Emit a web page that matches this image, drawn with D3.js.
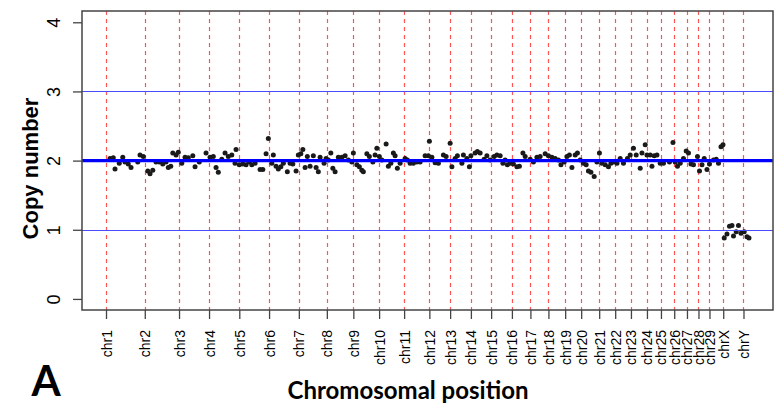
<!DOCTYPE html>
<html>
<head>
<meta charset="utf-8">
<script src="https://cdn.jsdelivr.net/npm/d3@7"></script>
<style>
  body { margin: 0; background: #fff; }
  svg { display: block; }
</style>
</head>
<body>
<script>
// copy number along the genome, one dot per segment

var chromNames = ["chr1", "chr2", "chr3", "chr4", "chr5", "chr6", "chr7", "chr8", "chr9", "chr10",
  "chr11", "chr12", "chr13", "chr14", "chr15", "chr16", "chr17", "chr18", "chr19", "chr20",
  "chr21", "chr22", "chr23", "chr24", "chr25", "chr26", "chr27", "chr28", "chr29", "chrX", "chrY"];

// start of each chromosome (Mb, cumulative)
var chromStarts = [0, 155, 292, 412, 533, 652, 771, 883, 989, 1092,
  1192, 1293, 1376, 1459, 1540, 1623, 1697, 1769, 1836, 1900,
  1972, 2036, 2099, 2163, 2219, 2272, 2323, 2369, 2413, 2468, 2549];

var yTicks = [0, 1, 2, 3, 4];
var refLines = [1, 3];
var baseLine = 2;

// [cumulative position (Mb), copy number]
var segments = [
  [16, 2.03], [29, 2.04], [36, 1.88], [53, 1.96], [67, 2.05], [76, 1.98], [89, 1.95], [100, 1.90],
  [127, 1.98], [136, 2.08], [149, 2.06], [167, 1.85], [176, 1.81], [187, 1.86], [200, 1.98],
  [213, 1.98], [227, 1.95], [240, 1.98], [249, 1.90], [259, 1.92], [267, 2.11], [280, 2.08],
  [289, 2.12], [303, 1.96], [316, 2.05], [329, 2.04], [347, 2.07], [356, 1.91], [373, 1.98],
  [400, 2.11], [416, 2.05], [429, 2.06], [440, 1.90], [449, 1.83], [463, 2.02], [476, 2.11],
  [489, 2.06], [503, 2.08], [520, 2.16], [516, 1.96], [533, 1.94], [547, 1.95], [560, 1.94],
  [573, 1.98], [583, 1.94], [596, 1.96], [616, 1.87], [627, 1.87], [640, 2.10], [649, 2.32],
  [663, 1.96], [669, 2.08], [680, 1.92], [689, 1.88], [699, 1.91], [709, 1.96], [725, 1.84],
  [736, 1.96], [747, 1.95], [760, 1.85], [769, 2.08], [779, 2.10], [787, 2.16], [796, 1.90],
  [805, 2.06], [816, 1.92], [829, 2.07], [840, 1.90], [849, 1.84], [856, 2.05], [872, 1.96],
  [880, 2.03], [889, 2.01], [899, 2.11], [907, 1.89], [916, 1.84], [929, 2.05], [943, 2.05],
  [956, 2.07], [969, 2.01], [983, 1.98], [989, 2.11], [1003, 1.94], [1013, 1.91], [1023, 1.86],
  [1029, 1.84], [1043, 2.10], [1053, 2.06], [1067, 1.98], [1076, 2.08], [1083, 2.18], [1093, 2.06],
  [1103, 2.01], [1120, 2.24], [1129, 1.92], [1139, 1.96], [1149, 2.11], [1156, 2.07], [1165, 1.89],
  [1176, 1.96], [1196, 2.03], [1205, 2.01], [1216, 1.96], [1229, 1.96], [1243, 1.98], [1256, 1.98],
  [1276, 2.07], [1289, 2.07], [1293, 2.28], [1303, 2.05], [1316, 1.97], [1329, 1.96], [1349, 2.08],
  [1360, 2.06], [1376, 2.25], [1383, 1.91], [1396, 2.03], [1405, 2.07], [1423, 1.96], [1429, 2.08],
  [1443, 2.03], [1453, 1.91], [1459, 2.07], [1476, 2.11], [1485, 2.13], [1496, 2.11], [1512, 2.02],
  [1523, 2.07], [1536, 2.01], [1552, 2.06], [1563, 2.08], [1576, 2.07], [1587, 1.96], [1596, 2.01],
  [1605, 1.94], [1616, 1.96], [1629, 1.95], [1643, 1.91], [1653, 1.92], [1667, 2.11], [1676, 2.06],
  [1696, 2.02], [1709, 1.98], [1723, 2.05], [1736, 2.06], [1756, 2.10], [1769, 2.07], [1783, 2.05],
  [1796, 2.03], [1809, 2.01], [1819, 1.94], [1832, 1.98], [1843, 2.06], [1853, 2.08], [1863, 1.90],
  [1876, 2.08], [1885, 2.11], [1896, 2.01], [1909, 1.96], [1920, 1.94], [1929, 1.85], [1939, 1.83],
  [1952, 1.77], [1963, 1.98], [1973, 2.11], [1983, 1.96], [1996, 1.94], [2009, 1.91], [2019, 1.96],
  [2029, 1.98], [2043, 1.96], [2056, 2.03], [2069, 1.96], [2085, 2.03], [2096, 2.08], [2109, 2.18],
  [2120, 2.08], [2136, 1.89], [2143, 2.11], [2156, 2.23], [2163, 2.08], [2176, 2.08], [2183, 1.92],
  [2192, 2.07], [2203, 2.08], [2216, 1.96], [2229, 1.96], [2253, 1.98], [2267, 2.26], [2276, 1.98],
  [2285, 1.92], [2296, 1.96], [2309, 2.03], [2320, 2.14], [2329, 2.11], [2339, 1.95], [2349, 1.94],
  [2365, 2.06], [2373, 1.85], [2383, 1.94], [2392, 2.03], [2403, 1.87], [2413, 1.95], [2429, 2.01],
  [2440, 2.02], [2449, 1.96], [2459, 2.20], [2467, 2.23],
  [2472, 0.88], [2483, 0.94], [2493, 1.05], [2503, 1.06], [2509, 0.91], [2520, 0.97], [2529, 1.06],
  [2539, 0.95], [2552, 0.97], [2563, 0.90], [2571, 0.88]
];

var W = 779, H = 405;
var box = { left: 82, right: 773, top: 11, bottom: 310 };
var sansFont = "'Liberation Sans', Arial, sans-serif";

var svg = d3.select("body").append("svg")
  .attr("width", W)
  .attr("height", H);

var x = d3.scaleLinear().domain([-96, 2667]).range([box.left, box.right]);
var y = d3.scaleLinear().domain([-0.16, 4.163]).range([box.bottom, box.top]);

function crisp(v) { return Math.round(v) + 0.5; }

// chromosome boundaries
svg.selectAll(".chrom-line")
  .data(chromStarts)
  .enter().append("line")
  .attr("x1", function (d) { return crisp(x(d)); })
  .attr("x2", function (d) { return crisp(x(d)); })
  .attr("y1", box.top)
  .attr("y2", box.bottom)
  .style("stroke", "#ff5555")
  .style("stroke-width", 1.2)
  .style("stroke-dasharray", "4,4");

// segment dots
svg.selectAll(".seg")
  .data(segments)
  .enter().append("circle")
  .attr("cx", function (d) { return x(d[0]); })
  .attr("cy", function (d) { return y(d[1]); })
  .attr("r", 2.5)
  .style("fill", "#1a1a1a");

// reference lines
svg.selectAll(".ref")
  .data(refLines)
  .enter().append("line")
  .attr("x1", box.left).attr("x2", box.right)
  .attr("y1", function (d) { return crisp(y(d)); })
  .attr("y2", function (d) { return crisp(y(d)); })
  .style("stroke", "#4a4aff")
  .style("stroke-width", 1.2);

svg.append("line")
  .attr("x1", box.left).attr("x2", box.right)
  .attr("y1", y(baseLine)).attr("y2", y(baseLine))
  .style("stroke", "#0000ff")
  .style("stroke-width", 3.2);

// frame
svg.append("rect")
  .attr("x", box.left).attr("y", box.top)
  .attr("width", box.right - box.left)
  .attr("height", box.bottom - box.top)
  .style("fill", "none")
  .style("stroke", "#444")
  .style("stroke-width", 1.5);

// y axis
var yAxis = svg.append("g")
  .attr("transform", "translate(" + box.left + ",0)")
  .call(d3.axisLeft(y).tickValues(yTicks).tickSize(9).tickPadding(0).tickFormat(d3.format("d")));
yAxis.select(".domain").remove();
yAxis.selectAll(".tick line").style("stroke", "#444").style("stroke-width", 1.3);
yAxis.selectAll(".tick text")
  .attr("x", 0).attr("dy", null)
  .attr("transform", "translate(-28,0) rotate(-90)")
  .attr("text-anchor", "middle")
  .attr("dominant-baseline", "central")
  .style("font-family", sansFont)
  .style("font-size", "18px")
  .style("fill", "#000");

// x axis
var xAxis = svg.append("g")
  .attr("transform", "translate(0," + box.bottom + ")")
  .call(d3.axisBottom(x).tickValues(chromStarts).tickSize(9)
    .tickFormat(function (d, i) { return chromNames[i]; }));
xAxis.select(".domain").remove();
xAxis.selectAll(".tick line").style("stroke", "#444").style("stroke-width", 1.3);
xAxis.selectAll(".tick text")
  .attr("y", 0).attr("dy", null)
  .attr("transform", "translate(0,20) rotate(-90)")
  .attr("text-anchor", "end")
  .attr("dominant-baseline", "central")
  .style("font-family", sansFont)
  .style("font-size", "14px")
  .style("fill", "#000");

// titles
svg.append("text")
  .attr("transform", "translate(30," + ((box.top + box.bottom) / 2 + 8) + ") rotate(-90)")
  .attr("text-anchor", "middle")
  .attr("dominant-baseline", "central")
  .style("font-family", sansFont)
  .style("font-weight", "bold")
  .style("font-size", "22px")
  .text("Copy number");

svg.append("text")
  .attr("x", 408).attr("y", 399)
  .attr("text-anchor", "middle")
  .style("font-family", "Lato, sans-serif")
  .style("font-weight", "bold")
  .style("font-size", "24px")
  .text("Chromosomal position");

svg.append("text")
  .attr("x", 46).attr("y", 396)
  .attr("text-anchor", "middle")
  .style("font-family", "Lato, sans-serif")
  .style("font-weight", "bold")
  .style("font-size", "42px")
  .text("A");
</script>
</body>
</html>
